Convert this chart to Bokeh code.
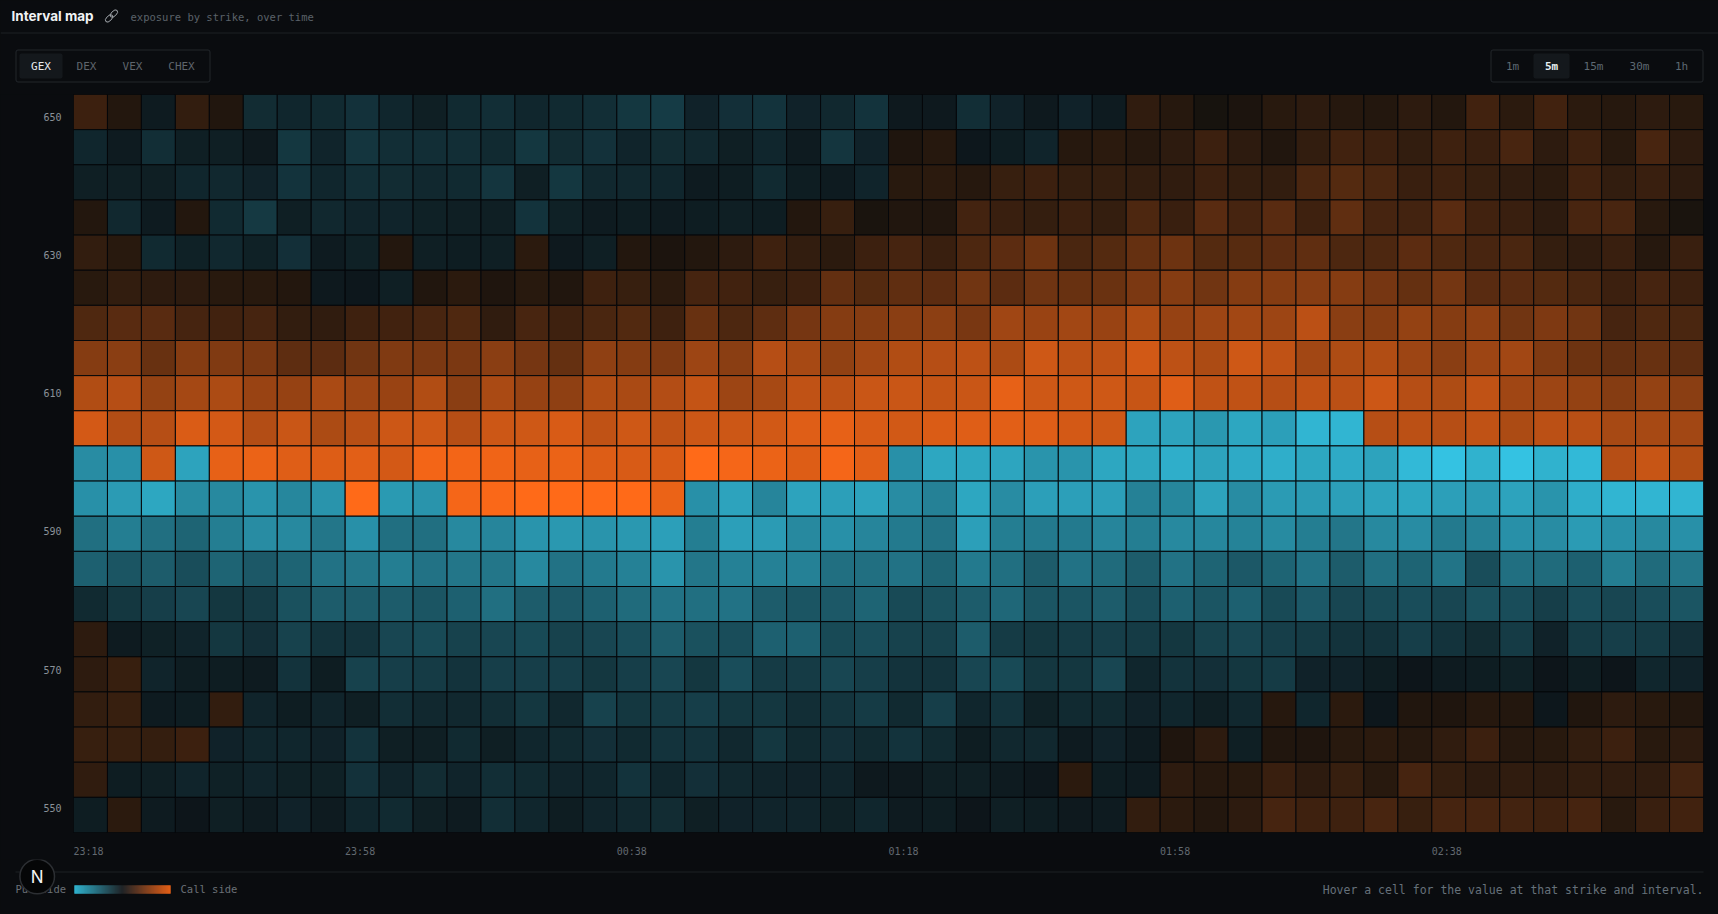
from bokeh.plotting import figure
from bokeh.layouts import column
from bokeh.models import Range1d, ColumnDataSource, LinearColorMapper, FixedTicker
from bokeh.core.properties import value
from bokeh.embed import file_html
from bokeh.resources import INLINE
import math

# ---- data: signed exposure intensity per strike, one value per 5m interval
# (negative = put side, positive = call side)
TIME_LABELS = {0: "23:18", 8: "23:58", 16: "00:38", 24: "01:18", 32: "01:58", 40: "02:38"}
STRIKE_LABELS = [650, 630, 610, 590, 570, 550]
STRIKES = [650, 645, 640, 635, 630, 625, 620, 615, 610, 605, 600, 595, 590, 585, 580, 575, 570, 565, 560, 555, 550]

ROW_650 = [20,10,-7,16,9,-16,-13,-15,-19,-13,-9,-15,-17,-13,-15,-17, -22,-24,-11,-18,-20,-11,-14,-20,-6,-6,-17,-11,-6,-11,-7,15, 11,5,7,12,14,11,10,14,10,22,13,22,13,11,14,12]
ROW_645 = [-13,-7,-17,-9,-9,-6,-22,-12,-21,-17,-17,-17,-15,-22,-16,-19, -12,-16,-14,-9,-13,-7,-21,-11,8,11,-5,-8,-12,11,13,11, 14,20,14,9,16,22,20,16,21,19,25,14,21,12,25,14]
ROW_640 = [-9,-9,-9,-13,-14,-11,-20,-13,-17,-16,-14,-15,-21,-9,-22,-14, -14,-13,-7,-8,-15,-8,-7,-12,12,13,11,18,20,17,17,16, 15,20,17,16,26,30,26,19,21,18,15,13,22,16,19,14]
ROW_635 = [10,-14,-7,10,-15,-23,-9,-14,-12,-12,-10,-9,-9,-20,-10,-7, -8,-7,-8,-9,-8,10,18,6,9,9,23,19,17,20,17,27, 19,32,24,32,21,35,24,23,32,22,19,14,25,25,12,6]
ROW_630 = [16,12,-15,-10,-14,-10,-18,-7,-10,10,-9,-8,-9,13,-6,-9, 10,7,10,14,21,16,13,20,24,19,27,33,40,26,30,37, 40,30,31,33,35,27,27,33,28,25,26,17,15,19,11,19]
ROW_625 = [12,16,14,14,12,12,10,-6,-5,-9,9,13,8,12,9,21, 18,13,24,22,18,20,36,30,35,33,42,33,41,38,39,46, 50,42,50,50,51,50,44,37,43,32,32,30,26,20,24,20]
ROW_620 = [28,32,32,24,22,24,16,15,21,22,25,28,15,25,21,26, 29,21,38,27,34,44,50,50,52,53,45,61,58,62,58,67, 57,60,62,60,72,52,50,56,50,54,42,47,42,24,28,26]
ROW_615 = [50,52,38,50,48,46,34,33,42,48,46,46,52,44,37,54, 50,47,60,52,70,64,55,62,68,70,73,66,80,73,74,81, 73,66,80,74,62,67,68,60,52,60,62,48,40,36,38,34]
ROW_610 = [68,70,56,63,66,58,57,65,60,58,68,52,65,57,54,68, 65,69,76,60,64,74,73,78,78,76,78,90,80,80,80,77, 87,74,74,70,74,72,79,70,67,74,61,60,56,50,56,52]
ROW_605 = [82,69,70,85,82,69,78,66,71,79,80,70,79,80,84,74, 80,74,79,79,81,87,90,84,81,85,87,88,87,82,80,-80, -80,-74,-82,-78,-90,-90,70,72,70,74,66,72,71,64,64,62]
ROW_600 = [-68,-70,80,-80,90,92,87,86,88,82,95,95,94,90,92,86, 84,84,100,96,92,86,96,88,-70,-82,-82,-81,-72,-72,-82,-82, -86,-80,-84,-86,-82,-84,-80,-92,-97,-88,-97,-88,-92,70,77,68]
ROW_595 = [-70,-76,-82,-67,-66,-72,-65,-72,100,-75,-72,96,98,100,100,100, 100,92,-70,-80,-64,-80,-78,-80,-68,-62,-82,-68,-78,-78,-78,-62, -65,-80,-68,-76,-76,-78,-80,-82,-78,-76,-80,-72,-86,-90,-90,-90]
ROW_590 = [-52,-60,-52,-46,-60,-68,-66,-56,-70,-52,-52,-66,-64,-72,-74,-72, -74,-78,-60,-78,-76,-66,-70,-64,-58,-54,-78,-60,-58,-58,-64,-60, -66,-65,-63,-67,-60,-56,-66,-68,-58,-62,-70,-68,-76,-70,-66,-70]
ROW_585 = [-44,-38,-42,-34,-46,-40,-46,-54,-56,-60,-54,-56,-56,-66,-54,-58, -62,-72,-56,-62,-62,-62,-52,-52,-54,-46,-58,-52,-42,-54,-50,-42, -54,-46,-40,-46,-54,-42,-52,-46,-55,-34,-52,-50,-44,-60,-50,-56]
ROW_580 = [-15,-22,-26,-30,-22,-24,-36,-42,-42,-42,-38,-44,-52,-42,-40,-44, -50,-54,-52,-54,-42,-38,-40,-46,-32,-36,-42,-48,-38,-38,-42,-34, -44,-38,-44,-32,-40,-30,-32,-34,-30,-36,-34,-26,-34,-30,-34,-38]
ROW_575 = [14,-7,-10,-12,-22,-18,-28,-20,-20,-30,-32,-28,-30,-32,-28,-30, -34,-42,-36,-34,-44,-44,-32,-34,-28,-28,-42,-24,-22,-24,-26,-24, -22,-28,-30,-26,-24,-20,-20,-26,-20,-16,-24,-11,-24,-26,-24,-18]
ROW_570 = [14,18,-12,-8,-8,-7,-20,-8,-28,-26,-24,-20,-26,-26,-26,-22, -26,-30,-22,-34,-24,-24,-30,-26,-20,-20,-30,-32,-22,-22,-30,-13, -20,-18,-22,-24,-11,-11,-8,-4,-7,-8,-10,-4,-8,-4,-13,-11]
ROW_565 = [16,18,-7,-8,16,-12,-8,-12,-9,-17,-14,-14,-17,-22,-14,-28, -22,-24,-26,-22,-22,-17,-21,-24,-15,-26,-13,-20,-10,-15,-15,-11, -13,-9,-14,11,-13,13,-5,9,8,11,10,-5,9,14,12,10]
ROW_560 = [18,18,17,20,-11,-13,-13,-11,-20,-9,-9,-15,-9,-13,-15,-18, -15,-20,-20,-14,-22,-15,-18,-15,-20,-15,-8,-14,-14,-7,-11,-7, 8,14,-9,9,8,12,13,11,15,20,11,12,16,20,12,14]
ROW_555 = [15,-8,-9,-12,-10,-12,-10,-10,-19,-12,-16,-12,-17,-15,-12,-13, -20,-13,-18,-14,-12,-11,-12,-6,-6,-9,-9,-7,-5,13,-8,-7, 14,11,12,19,14,18,12,24,17,14,15,14,16,15,15,23]
ROW_550 = [-8,13,-7,-4,-9,-7,-11,-7,-13,-15,-9,-7,-17,-13,-8,-12, -14,-16,-9,-11,-12,-12,-10,-13,-7,-8,-4,-9,-8,-6,-7,16, 13,10,14,24,21,21,25,18,24,24,23,21,24,12,19,22]

ROWS = [ROW_650, ROW_645, ROW_640, ROW_635, ROW_630, ROW_625, ROW_620, ROW_615, ROW_610, ROW_605, ROW_600,
        ROW_595, ROW_590, ROW_585, ROW_580, ROW_575, ROW_570, ROW_565, ROW_560, ROW_555, ROW_550]

METRIC_TABS = ["GEX", "DEX", "VEX", "CHEX"]
INTERVAL_TABS = ["1m", "5m", "15m", "30m", "1h"]

# ---- styling
BG = "#0a0c0f"
PUT_BASE = (11, 14, 17)
CALL_BASE = (11, 14, 13)
PUT_END = (53, 200, 232)
CALL_END = (255, 106, 24)
MONO = value("DejaVu Sans Mono")
SANS = value("Inter")


def mix(a, b, t):
    return "#%02x%02x%02x" % tuple(round(x + (y - x) * t) for x, y in zip(a, b))


palette = [mix(PUT_BASE, PUT_END, i / 100) for i in range(100, 0, -1)] + \
          [mix(CALL_BASE, CALL_END, i / 100) for i in range(0, 101)]
mapper = LinearColorMapper(palette=palette, low=-100, high=100)

W = 1718


def chrome(height, top):
    f = figure(width=W, height=height, output_backend="svg", toolbar_location=None,
               x_range=Range1d(0, W), y_range=Range1d(top + height, top),
               min_border=0, min_border_left=0, min_border_right=0, min_border_top=0, min_border_bottom=0,
               background_fill_color=BG, border_fill_color=BG, outline_line_color=None, frame_align=False)
    f.axis.visible = False
    f.grid.visible = False
    return f


def label(f, x, y, s, size, color, font=MONO, align="left", weight="normal"):
    f.text([x], [y], text=[s], text_font=font, text_font_size=f"{size}px", text_color=color,
           text_align=align, text_baseline="middle", text_font_style=weight)


def box(f, l, r, t, b, fill, line=None, radius=0):
    f.quad(left=[l], right=[r], top=[t], bottom=[b], fill_color=fill, line_color=line, line_width=1,
           border_radius=radius)


# ---- header
head = chrome(94, 0)
label(head, 11, 15.5, "Interval map", 13.5, "#f1f3f5", SANS, weight="bold")
head.ellipse([108.6, 113.4], [17.9, 13.1], width=9, height=5, angle=math.pi / 4,
             fill_color=None, line_color="#a3a8ad", line_width=1)
label(head, 130, 16, "exposure by strike, over time", 10.5, "#5b6269")
head.segment([0], [32.5], [W], [32.5], line_color="#1c2024", line_width=1)

box(head, 15.5, 209.5, 49.5, 81.5, BG, "#22262b", 2)
box(head, 19, 62, 53, 78, "#14181c", None, 2)
for name, cx, on in zip(METRIC_TABS, [40.5, 86, 132, 181], [True, False, False, False]):
    label(head, cx, 66, name, 11, "#e6e9ec" if on else "#5f656c", align="center")

box(head, 1490.5, 1702.5, 49.5, 81.5, BG, "#22262b", 2)
box(head, 1533, 1569, 53, 78, "#14181c", None, 2)
for name, cx, on in zip(INTERVAL_TABS, [1512, 1551, 1593, 1639, 1681], [False, True, False, False, False]):
    label(head, cx, 66, name, 11, "#e6eef2" if on else "#5d6972", align="center", weight="bold" if on else "normal")

# ---- heat map
xs, ys, vs = [], [], []
for strike, row in zip(STRIKES, ROWS):
    for col, v in enumerate(row):
        xs.append(col + 0.5)
        ys.append(strike)
        vs.append(v)
source = ColumnDataSource(dict(x=xs, y=ys, v=vs))

heat = figure(width=W, height=765, output_backend="svg", toolbar_location=None,
              x_range=Range1d(0, 48), y_range=Range1d(547.5, 652.5),
              frame_height=738,
              min_border_left=73, min_border_right=15, min_border_top=0, min_border_bottom=27,
              background_fill_color=BG, border_fill_color=BG, outline_line_color=None, frame_align=False)
heat.rect("x", "y", width=1, height=5, source=source,
          fill_color={"field": "v", "transform": mapper}, line_color="#05070a", line_width=1)
heat.grid.visible = False

xax = heat.xaxis[0]
x_ticks = [c + 0.44 for c in TIME_LABELS]
xax.ticker = FixedTicker(ticks=x_ticks)
xax.major_label_overrides = {t: TIME_LABELS[c] for t, c in zip(x_ticks, TIME_LABELS)}
xax.major_tick_line_color = None
xax.minor_tick_line_color = None
xax.axis_line_color = None
xax.major_tick_out = 0
xax.major_label_standoff = 13
xax.major_label_text_font = "DejaVu Sans Mono"
xax.major_label_text_font_size = "10px"
xax.major_label_text_color = "#626970"

yax = heat.yaxis[0]
y_ticks = [round(s - 0.73 + (650 - s) * 0.0176, 3) for s in STRIKE_LABELS]
yax.ticker = FixedTicker(ticks=y_ticks)
yax.major_label_overrides = {t: str(s) for t, s in zip(y_ticks, STRIKE_LABELS)}
yax.major_tick_line_color = None
yax.minor_tick_line_color = None
yax.axis_line_color = None
yax.major_tick_out = 0
yax.major_label_standoff = 12
yax.major_label_text_font = "DejaVu Sans Mono"
yax.major_label_text_font_size = "10px"
yax.major_label_text_color = "#8a9299"

# ---- footer
foot = chrome(55, 859)
foot.segment([15], [871.5], [1703], [871.5], line_color="#1c2024", line_width=1)
label(foot, 15, 888.5, "Put side", 10.5, "#6b7076")
# legend gradient: put colour -> neutral -> call colour
LEGEND_MID = (35, 39, 43)
steps = 96
grad = [mix(PUT_END, LEGEND_MID, i / 47.5) if i < 48 else mix(LEGEND_MID, CALL_END, (i - 47.5) / 47.5) for i in range(steps)]
foot.quad(left=[74 + i for i in range(steps)], right=[75 + i for i in range(steps)],
          top=[885] * steps, bottom=[893] * steps, fill_color=grad, line_color=grad, line_width=0.3)
label(foot, 180, 888.5, "Call side", 10.5, "#6b7076")
label(foot, 1703, 889, "Hover a cell for the value at that strike and interval.", 11.5, "#66717a", align="right")
foot.circle([36.7], [876], radius=17.3, fill_color="#050607", line_color="#2c2f33", line_width=1.5)
label(foot, 36.7, 876, "N", 17, "#f4f4f4", SANS, align="center")

page = column(head, heat, foot, spacing=0)
html = file_html(page, INLINE)
html = html.replace("<head>", "<head><style>html,body{margin:0;background:%s;overflow:hidden}</style>" % BG, 1)
open("out.html", "w").write(html)
